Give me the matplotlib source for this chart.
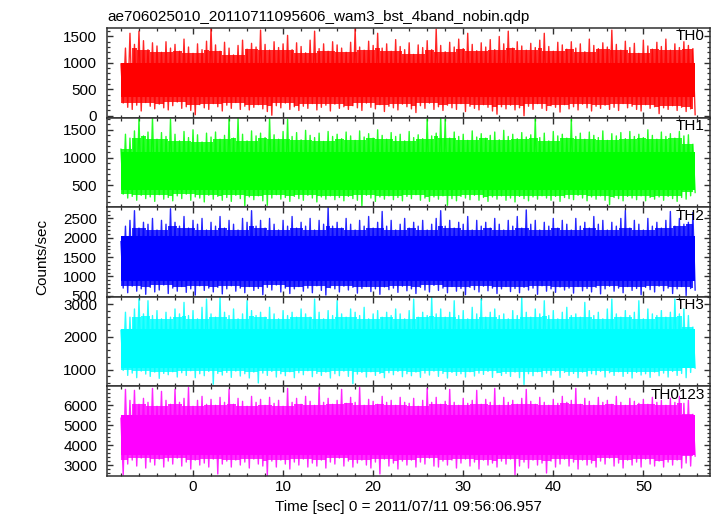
import numpy as np
import matplotlib
matplotlib.use("Agg")
import matplotlib.pyplot as plt
from matplotlib.ticker import MultipleLocator
from numpy.lib.stride_tricks import sliding_window_view

plt.rcParams["font.family"] = ["Liberation Sans", "DejaVu Sans"]

# --- light curve data (count rates) ---
# each band: local peaks at t = T_START + k*DT, local troughs DT/2 later
T_START = -8.0
DT = 0.5

BANDS = ["TH0", "TH1", "TH2", "TH3", "TH0123"]
COLORS = ["#ff0000", "#00ff00", "#0000ff", "#00ffff", "#ff00ff"]

TH0_PEAKS = [
    980, 1280, 1560, 1350, 1600, 1420, 1250, 1380, 1320, 1200,
    1400, 1280, 1350, 1220, 1450, 1300, 1180, 1360, 1250, 1410,
    1680, 1340, 1220, 1390, 1280, 1150, 1330, 1430, 1260, 1370,
    1300, 1620, 1350, 1240, 1400, 1290, 1360, 1520, 1250, 1380,
    1310, 1190, 1430, 1600, 1270, 1360, 1220, 1400, 1340, 1280,
    1200, 1390, 1650, 1300, 1240, 1410, 1330, 1560, 1280, 1360,
    1220, 1440, 1310, 1250, 1380, 1160, 1340, 1290, 1420, 1250,
    1640, 1330, 1210, 1390, 1300, 1450, 1270, 1560, 1350, 1230,
    1380, 1300, 1440, 1250, 1500, 1360, 1600, 1280, 1400, 1320,
    1240, 1370, 1290, 1430, 1560, 1310, 1220, 1390, 1340, 1260,
    1400, 1280, 1360, 1210, 1450, 1330, 1270, 1380, 1300, 1620,
    1350, 1240, 1410, 1290, 1370, 1180, 1430, 1320, 1260, 1390,
    1310, 1450, 1240, 1360, 1290, 1400, 1330, 1270,
]
TH0_TROUGHS = [
    240, 160, 120, 200, 90, 250, 180, 130, 220, 150,
    110, 190, 260, 140, 170, 100, 20, 210, 150, 120,
    230, 170, 90, 200, 140, 250, 120, 180, 110, 160,
    210, 130, 80, 10, 190, 150, 240, 120, 170, 100,
    180, 140, 230, 110, 160, 200, 90, 220, 140, 170,
    120, 190, 150, 100, 240, 160, 130, 210, 80, 180,
    150, 110, 220, 170, 130, 60, 190, 140, 240, 120,
    170, 100, 200, 150, 120, 230, 80, 180, 140, 110,
    210, 160, 90, 30, 170, 130, 200, 110, 150, 0,
    180, 120, 230, 140, 100, 190, 160, 70, 210, 130,
    170, 110, 220, 150, 90, 180, 140, 200, 120, 160,
    100, 230, 150, 180, 120, 90, 210, 140, 170, 40,
    150, 120, 190, 100, 160, 80, 130, 20,
]

TH1_PEAKS = [
    1150, 1420, 1350, 1480, 1700, 1390, 1460, 1720, 1330, 1450,
    1380, 1690, 1420, 1300, 1470, 1360, 1500, 1410, 1280, 1440,
    1370, 1460, 1330, 1400, 1700, 1350, 1710, 1420, 1300, 1480,
    1390, 1440, 1360, 1720, 1410, 1330, 1470, 1690, 1380, 1450,
    1320, 1490, 1400, 1360, 1440, 1290, 1470, 1380, 1420, 1340,
    1460, 1390, 1310, 1480, 1370, 1430, 1350, 1500, 1400, 1330,
    1450, 1380, 1420, 1300, 1470, 1360, 1410, 1340, 1700, 1390,
    1440, 1720, 1690, 1350, 1460, 1380, 1420, 1310, 1480, 1370,
    1430, 1350, 1400, 1460, 1320, 1490, 1380, 1420, 1340, 1450,
    1370, 1410, 1700, 1360, 1440, 1300, 1470, 1390, 1420, 1350,
    1690, 1380, 1440, 1330, 1460, 1400, 1360, 1480, 1310, 1430,
    1390, 1450, 1340, 1470, 1380, 1420, 1360, 1500, 1400, 1330,
    1460, 1380, 1430, 1350, 1470, 1390, 1410, 1240,
]
TH1_TROUGHS = [
    340, 270, 300, 230, 320, 260, 290, 210, 330, 250,
    280, 220, 310, 260, 340, 230, 290, 270, 200, 320,
    250, 300, 230, 280, 210, 320, 260, 130, 290, 240,
    310, 220, 140, 270, 330, 250, 280, 210, 300, 260,
    230, 320, 270, 200, 290, 250, 310, 240, 280, 220,
    300, 260, 230, 120, 320, 270, 210, 290, 250, 310,
    240, 280, 220, 300, 260, 330, 230, 270, 210, 290,
    250, 310, 140, 260, 220, 300, 270, 240, 320, 230,
    280, 210, 290, 250, 310, 230, 270, 200, 300, 260,
    220, 290, 250, 310, 270, 230, 300, 210, 280, 260,
    240, 320, 270, 220, 290, 250, 310, 230, 150, 280,
    260, 220, 300, 270, 240, 310, 220, 280, 250, 290,
    230, 300, 260, 210, 280, 250, 310, 370,
]

TH2_PEAKS = [
    1900, 2300, 2450, 2700, 2250, 2400, 2350, 2500, 2200, 2450,
    2350, 2750, 2400, 2300, 2550, 2250, 2450, 2350, 2500, 2200,
    2400, 2300, 2550, 2250, 2450, 2350, 2200, 2500, 2400, 2700,
    2300, 2450, 2250, 2500, 2350, 2200, 2450, 2300, 2550, 2250,
    2400, 2300, 2500, 2200, 2450, 2350, 2790, 2300, 2400, 2250,
    2500, 2350, 2200, 2450, 2300, 2550, 2250, 2400, 2680, 2300,
    2450, 2200, 2350, 2500, 2250, 2400, 2300, 2450, 2200, 2350,
    2500, 2700, 2300, 2450, 2250, 2400, 2350, 2550, 2200, 2450,
    2300, 2400, 2250, 2500, 2350, 2200, 2450, 2300, 2550, 2250,
    2720, 2350, 2450, 2200, 2400, 2300, 2500, 2250, 2450, 2350,
    2200, 2500, 2300, 2400, 2250, 2550, 2350, 2450, 2200, 2400,
    2300, 2500, 2700, 2250, 2450, 2350, 2200, 2500, 2300, 2400,
    2250, 2450, 2680, 2300, 2500, 2350, 2400, 2650,
]
TH2_TROUGHS = [
    700, 580, 750, 620, 680, 540, 720, 600, 650, 780,
    560, 700, 620, 740, 590, 680, 520, 760, 640, 700,
    600, 720, 550, 680, 760, 620, 700, 580, 740, 640,
    690, 530, 720, 650, 780, 600, 700, 560, 680, 740,
    620, 700, 580, 760, 640, 520, 710, 680, 600, 750,
    650, 720, 570, 690, 740, 610, 680, 540, 730, 660,
    700, 590, 750, 630, 680, 560, 720, 650, 600, 770,
    640, 700, 580, 740, 620, 690, 530, 720, 660, 600,
    750, 630, 700, 560, 680, 740, 610, 690, 580, 720,
    650, 700, 540, 760, 620, 680, 590, 730, 650, 700,
    570, 740, 630, 690, 600, 720, 550, 680, 750, 620,
    700, 580, 740, 640, 690, 530, 720, 660, 600, 750,
    630, 700, 560, 680, 740, 510, 690, 650,
]

TH3_PEAKS = [
    2200, 2750, 2600, 2850, 3150, 2700, 3100, 2650, 2800, 2550,
    2750, 2600, 2850, 2700, 3050, 2650, 2800, 2550, 2900, 3150,
    2700, 2600, 3200, 2750, 2650, 2850, 2550, 2700, 3100, 2800,
    2650, 2750, 2600, 2900, 2700, 2550, 2800, 2650, 2750, 2600,
    2850, 2700, 2600, 3150, 2750, 2550, 2800, 2650, 3100, 2700,
    2600, 2850, 2750, 2650, 2900, 2550, 2700, 2800, 2600, 2750,
    2650, 2850, 2700, 2550, 2800, 3150, 2600, 2750, 2650, 3200,
    2700, 2850, 2600, 2750, 3100, 2650, 2800, 2550, 2900, 2700,
    3150, 2600, 2750, 2850, 2650, 2700, 2550, 2800, 2650, 3200,
    2750, 2600, 2850, 2700, 3100, 2650, 2800, 2550, 2750, 2900,
    2650, 2700, 2600, 3050, 2800, 2650, 2750, 2550, 2850, 3150,
    2700, 2600, 2800, 2650, 2750, 3100, 2550, 2850, 2700, 2650,
    2800, 2600, 2750, 3150, 2700, 2850, 2650, 2300,
]
TH3_TROUGHS = [
    980, 830, 900, 760, 960, 870, 800, 930, 740, 890,
    850, 940, 780, 910, 830, 970, 760, 880, 820, 950,
    560, 890, 840, 920, 770, 960, 810, 880, 750, 930,
    600, 900, 830, 950, 780, 880, 820, 940, 760, 910,
    850, 970, 790, 890, 830, 930, 750, 880, 820, 960,
    800, 580, 870, 920, 780, 940, 830, 890, 760, 910,
    850, 950, 790, 880, 820, 930, 770, 900, 840, 960,
    800, 890, 750, 920, 830, 880, 780, 940, 810, 900,
    860, 950, 770, 910, 830, 890, 800, 930, 760, 550,
    880, 820, 940, 790, 900, 840, 960, 770, 920, 830,
    890, 760, 930, 810, 880, 850, 950, 780, 910, 830,
    940, 800, 890, 750, 920, 840, 880, 770, 930, 820,
    900, 780, 950, 830, 890, 760, 920, 1050,
]

TH0123_PEAKS = [
    5350, 6800, 6250, 6750, 6050, 6350, 6150, 6850, 5950, 6700,
    6250, 6050, 6800, 6150, 6350, 6900, 5950, 6250, 6450, 6050,
    6300, 6000, 6400, 6150, 6800, 6050, 6350, 6200, 5950, 6450,
    6150, 6300, 6000, 6400, 6100, 6250, 5950, 6850, 6150, 6350,
    6050, 6450, 6200, 6000, 6900, 6150, 6350, 6050, 6250, 6800,
    6100, 6400, 6150, 6900, 6000, 6300, 6200, 6050, 6450, 6150,
    6250, 6000, 6400, 6150, 6100, 6350, 5950, 6250, 6850, 6150,
    6400, 6050, 6200, 6800, 6150, 6000, 6350, 6100, 6250, 6750,
    6050, 6300, 6150, 6850, 6000, 6400, 6150, 6250, 6050, 6350,
    6800, 6200, 6050, 6400, 6150, 6000, 6300, 6100, 6450, 6150,
    6250, 6850, 6050, 6350, 6200, 6000, 6400, 6150, 6250, 6050,
    6450, 6150, 6000, 6350, 6200, 6100, 6300, 6050, 6400, 6150,
    6250, 6000, 6350, 6150, 6450, 6100, 6250, 5550,
]
TH0123_TROUGHS = [
    2500, 3050, 3250, 2950, 3350, 2850, 3150, 3000, 3300, 2900,
    3200, 3050, 3350, 2950, 3150, 2800, 3250, 3000, 3100, 2900,
    3300, 2550, 3050, 3200, 2900, 3250, 3000, 3150, 2850, 3300,
    3050, 2950, 2480, 3200, 2900, 3250, 3050, 2800, 3150, 3000,
    3300, 2900, 3100, 2950, 3250, 2850, 3150, 3050, 3350, 2950,
    3200, 2900, 3100, 3250, 3000, 2850, 3150, 2550, 3300, 2950,
    3100, 2800, 3200, 3000, 3250, 2900, 3150, 3050, 3350, 2950,
    2900, 3200, 3000, 3250, 2850, 3100, 3300, 2950, 3150, 2800,
    3250, 3000, 3100, 2900, 3200, 3050, 3300, 2500, 2950, 3150,
    2850, 3250, 3000, 3100, 2600, 3200, 2900, 3050, 3300, 2950,
    3150, 2800, 3250, 3000, 3100, 2900, 3200, 3050, 3350, 2950,
    3100, 2850, 3250, 3000, 3150, 2900, 3300, 3050, 2950, 3200,
    2900, 3150, 3000, 3250, 2850, 3100, 2950, 3450,
]

PEAKS = [TH0_PEAKS, TH1_PEAKS, TH2_PEAKS, TH3_PEAKS, TH0123_PEAKS]
TROUGHS = [TH0_TROUGHS, TH1_TROUGHS, TH2_TROUGHS, TH3_TROUGHS, TH0123_TROUGHS]

# fully saturated middle of each light curve
CORE_LO = [360, 420, 880, 1050, 3500]
CORE_HI = [1000, 1100, 2050, 2250, 5500]

Y_LIMITS = [(-35, 1660), (105, 1720), (475, 2790), (495, 3220), (2450, 6950)]
Y_MAJOR = [500, 500, 500, 1000, 1000]
Y_MINOR = [100, 100, 100, 200, 200]

TITLE = "ae706025010_20110711095606_wam3_bst_4band_nobin.qdp"
X_LABEL = "Time [sec] 0 = 2011/07/11 09:56:06.957"
Y_LABEL = "Counts/sec"


def rolling(v, fn, w=5):
    """Running min/max of the read extremes (dense part of the band)."""
    padded = np.pad(v, w // 2, mode="edge")
    return fn(sliding_window_view(padded, w), axis=1)


# --- figure layout (pixel-matched to 717x516) ---
W, H = 717, 516
fig = plt.figure(figsize=(W / 100, H / 100), dpi=100)
left, right = 107 / W, 710 / W
top, bottom = 1 - 28 / H, 1 - 476 / H
ph = (top - bottom) / len(BANDS)
frame_col = "#303030"

for i, name in enumerate(BANDS):
    ax = fig.add_axes([left, top - (i + 1) * ph, right - left, ph])
    c = COLORS[i]

    peaks = np.asarray(PEAKS[i], dtype=float)
    troughs = np.asarray(TROUGHS[i], dtype=float)
    t = T_START + DT * np.arange(len(peaks))

    # interleave peaks and troughs into one jagged curve
    tt = np.empty(2 * len(t))
    yy = np.empty(2 * len(t))
    tt[0::2], tt[1::2] = t, t + DT / 2
    yy[0::2], yy[1::2] = peaks, troughs

    dense_hi = rolling(peaks, np.min)
    dense_lo = rolling(troughs, np.max)
    ax.fill_between(t, dense_lo, dense_hi, color=c, alpha=0.82, lw=0,
                    step="mid")
    ax.fill_between([t[0], t[-1] + DT / 2], CORE_LO[i], CORE_HI[i],
                    color=c, lw=0)
    ax.plot(tt, yy, color=c, lw=1.0, alpha=0.85)

    ax.set_xlim(-9.55, 57.4)
    ax.set_ylim(*Y_LIMITS[i])
    ax.xaxis.set_major_locator(MultipleLocator(10))
    ax.xaxis.set_minor_locator(MultipleLocator(2))
    ax.yaxis.set_major_locator(MultipleLocator(Y_MAJOR[i]))
    ax.yaxis.set_minor_locator(MultipleLocator(Y_MINOR[i]))

    ax.tick_params(which="both", direction="in", top=True, right=True,
                   color=frame_col, labelsize=11, labelcolor="black")
    ax.tick_params(which="major", length=4, width=1.0)
    ax.tick_params(which="minor", length=2, width=0.9)
    ax.tick_params(axis="y", pad=7)
    ax.tick_params(axis="x", pad=3)
    if i < len(BANDS) - 1:
        ax.tick_params(axis="x", labelbottom=False)
    for sp in ax.spines.values():
        sp.set_color(frame_col)
        sp.set_linewidth(1.1)

    ax.text(0.991, 0.985, name, transform=ax.transAxes, ha="right",
            va="top", fontsize=11)

fig.text(left, 1 - 21 / H, TITLE, ha="left", va="baseline", fontsize=11)
fig.text((left + right) / 2, 1 - 511 / H, X_LABEL, ha="center",
         va="baseline", fontsize=11)
fig.text(42 / W, 1 - 257 / H, Y_LABEL, rotation=90, ha="center",
         va="center", fontsize=11)

fig.savefig("out.png", dpi=100)
